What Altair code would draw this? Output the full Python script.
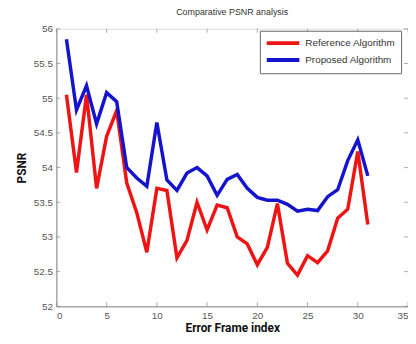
import altair as alt
import pandas as pd

frames = list(range(1, 32))
reference = [55.05, 53.93, 55.05, 53.70, 54.45, 54.82, 53.78, 53.35, 52.78, 53.70,
             53.67, 52.70, 52.95, 53.50, 53.10, 53.46, 53.42, 53.00, 52.90, 52.60,
             52.85, 53.48, 52.62, 52.45, 52.73, 52.63, 52.80, 53.27, 53.40, 54.23,
             53.18]
proposed = [55.85, 54.83, 55.18, 54.63, 55.08, 54.95, 54.00, 53.85, 53.73, 54.65,
            53.82, 53.67, 53.92, 54.00, 53.88, 53.60, 53.83, 53.90, 53.70, 53.57,
            53.53, 53.53, 53.47, 53.37, 53.40, 53.38, 53.58, 53.68, 54.10, 54.40,
            53.88]
series_names = ["Reference Algorithm", "Proposed Algorithm"]
series_colors = ["#ee1414", "#1414cc"]
x_ticks = [0, 5, 10, 15, 20, 25, 30, 35]
y_ticks = [52, 52.5, 53, 53.5, 54, 54.5, 55, 55.5, 56]

W, H = 356, 281
FONT = "Liberation Sans"
TITLE_FONT = "Roboto"

df = pd.concat([
    pd.DataFrame({"frame": frames, "psnr": reference, "series": series_names[0]}),
    pd.DataFrame({"frame": frames, "psnr": proposed, "series": series_names[1]}),
])
xt = pd.DataFrame({"v": x_ticks})
yt = pd.DataFrame({"v": y_ticks})

xscale = alt.Scale(domain=[0, 35], nice=False, zero=False)
yscale = alt.Scale(domain=[52, 56], nice=False, zero=False)

xaxis = alt.Axis(values=x_ticks, ticks=False, grid=False, title="Error Frame index",
                 labelFont=FONT, labelFontSize=10, labelColor="#555555",
                 labelPadding=4, domainColor="#888888", labelOverlap=False,
                 titleFont=TITLE_FONT, titleFontSize=12, titleFontWeight="bold",
                 titleColor="#111111", titleX=W / 2, titleY=21,
                 titleBaseline="middle")
yaxis = alt.Axis(values=y_ticks, ticks=False, grid=False, title="PSNR",
                 labelExpr="format(datum.value, '.1~f')", labelOverlap=False,
                 labelFont=FONT, labelFontSize=10, labelColor="#555555",
                 labelPadding=4, domainColor="#888888",
                 titleFont=TITLE_FONT, titleFontSize=12, titleFontWeight="bold",
                 titleColor="#111111", titleX=-35, titleY=H / 2,
                 titleBaseline="middle", titleAngle=270)

lines = alt.Chart(df).mark_line(strokeWidth=3.5).encode(
    x=alt.X("frame:Q", scale=xscale, axis=xaxis),
    y=alt.Y("psnr:Q", scale=yscale, axis=yaxis),
    color=alt.Color("series:N",
                    scale=alt.Scale(domain=series_names, range=series_colors),
                    legend=alt.Legend(title=None, orient="none", legendX=206, legendY=2,
                                      padding=5, strokeColor="#666666", fillColor="white",
                                      labelFont=FONT, labelFontSize=10, labelColor="#333333",
                                      symbolType="M-3,0L3,0", symbolStrokeWidth=4,
                                      symbolSize=121, symbolOffset=11, labelOffset=15,
                                      rowPadding=0)),
    order=alt.Order("frame:Q"),
)

tick_color = "#888888"
bottom_ticks = alt.Chart(xt).mark_tick(color=tick_color, size=4, thickness=1).encode(
    x=alt.X("v:Q", scale=xscale, axis=xaxis), y=alt.value(H - 2))
top_ticks = alt.Chart(xt).mark_tick(color=tick_color, size=4, thickness=1).encode(
    x=alt.X("v:Q", scale=xscale, axis=xaxis), y=alt.value(2))
left_ticks = alt.Chart(yt).mark_tick(color=tick_color, size=4, thickness=1).encode(
    y=alt.Y("v:Q", scale=yscale, axis=yaxis), x=alt.value(2))
right_ticks = alt.Chart(yt).mark_tick(color=tick_color, size=4, thickness=1).encode(
    y=alt.Y("v:Q", scale=yscale, axis=yaxis), x=alt.value(W - 2))

chart = alt.layer(lines, bottom_ticks, top_ticks, left_ticks, right_ticks).properties(
    width=W, height=H,
    title=alt.TitleParams("Comparative PSNR analysis", font=FONT, fontSize=9,
                          fontWeight="normal", color="#333333", anchor="middle", offset=7),
    autosize=alt.AutoSizeParams(type="none"),
    padding={"left": 49, "top": 19, "right": 0, "bottom": 28},
).configure_view(stroke="#888888", strokeWidth=1).configure(background="white")

chart.save("out.html", embed_options={"renderer": "svg", "actions": False})
